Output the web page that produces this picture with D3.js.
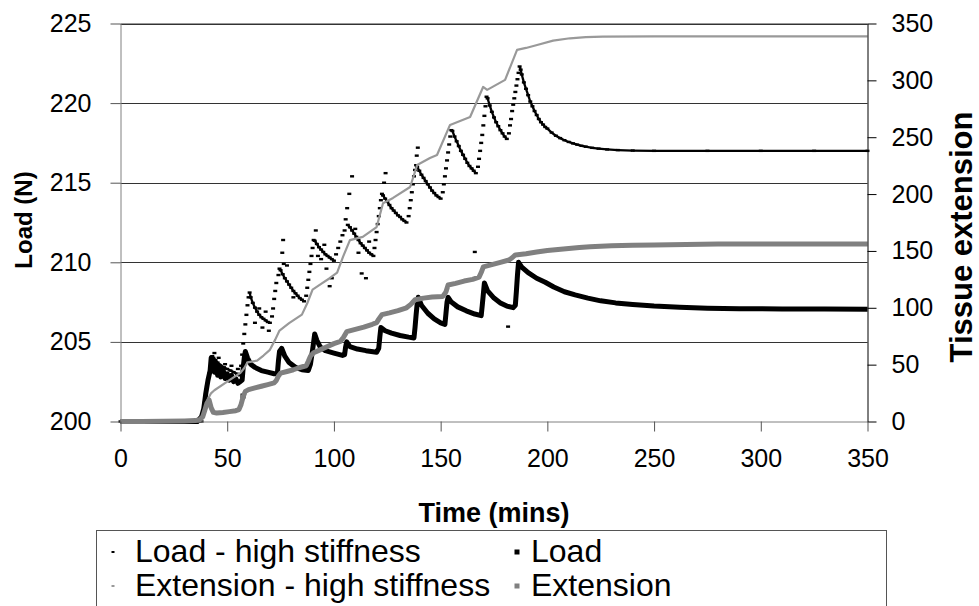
<!DOCTYPE html>
<html><head><meta charset="utf-8">
<script src="https://cdn.jsdelivr.net/npm/d3@7"></script>
<style>
html,body{margin:0;padding:0;background:#fff;}
svg{display:block;font-family:"Liberation Sans",Arial,sans-serif;}
</style></head><body>
<svg id="chart" width="979" height="606"></svg>
<script>
// Axis ticks
const timeTicks = [0, 50, 100, 150, 200, 250, 300, 350];
const loadTicks = [200, 205, 210, 215, 220, 225];
const extTicks = [0, 50, 100, 150, 200, 250, 300, 350];

// Load - high stiffness: [time (mins), load (N)]
const loadHigh = [
  [0,200],[5,200],[10,200],[15,200],[20,200],[25,200],[30,200],[35,200],[38,200],
  [39,200.7],[39.5,201.2],[40,201.7],[40.5,202.2],[41,202.6],[41.5,203.0],[42,203.4],[42.5,203.7],[43,204.1],
  [43.5,204.0],[44.5,203.85],[45.5,203.7],[47,203.5],[48.5,203.4],[50,203.3],[51.5,203.2],[53,203.1],[54.5,203.0],[56,202.9],
  [56.5,203.5],[57,204.2],[57.5,204.9],[58,205.5],[58.5,206.1],[59,206.7],[59.5,207.3],[60,207.8],
  [60.5,208.1],[61,207.8],[62,207.45],[63,207.15],[64,206.9],[65,206.7],[66,206.55],[67,206.45],[68,206.35],[69,206.25],[70,206.2],
  [71,206.6],[71.5,207.1],[72,207.7],[72.5,208.2],[73,208.7],[74,209.2],[74.5,209.6],
  [75,209.5],[76,209.25],[77,209.0],[78,208.8],[79,208.6],[80,208.4],[81,208.2],[82,208.05],[83,207.9],[84,207.75],[85,207.65],[86,207.55],
  [87,207.9],[87.5,208.4],[88,208.9],[88.5,209.4],[89,209.9],[89.5,210.4],[90,210.9],[90.5,211.4],
  [91,211.35],[92,211.15],[93,210.95],[94,210.8],[95,210.65],[96,210.5],[97,210.4],[98,210.3],[99,210.2],[100,210.1],
  [101,210.5],[102,210.9],[103,211.3],[104,211.7],[105,212.0],
  [106.5,212.35],[107.5,212.2],[108.5,212.0],[109.5,211.8],[110.5,211.6],[111.5,211.4],[112.5,211.2],[113.5,211.05],[114.5,210.9],[115.5,210.75],[116.5,210.6],[117.5,210.5],[118.5,210.4],
  [119,210.9],[119.5,211.4],[120,211.9],[120.5,212.4],[121,212.9],[121.5,213.4],[122,213.9],[122.5,214.3],
  [123,214.2],[124,214.0],[125,213.8],[126,213.6],[127,213.4],[128,213.25],[129,213.1],[130,212.95],[131,212.85],[132,212.7],[133,212.6],[134,212.5],
  [135,212.9],[135.5,213.4],[136,213.9],[136.5,214.4],[137,214.9],[137.5,215.4],[138,215.8],[138.5,216.1],
  [139,216.0],[140,215.75],[141,215.5],[142,215.3],[143,215.1],[144,214.9],[145,214.7],[146,214.5],[147,214.35],[148,214.2],[149,214.1],[150,214.0],
  [151,214.4],[151.5,214.9],[152,215.4],[152.5,215.9],[153,216.4],[153.5,216.9],[154,217.4],[154.5,217.9],[155,218.3],
  [155.5,218.25],[156.5,217.9],[157.5,217.6],[158.5,217.3],[159.5,217.0],[160.5,216.75],[161.5,216.5],[162.5,216.25],[163.5,216.05],[164.5,215.9],[165.5,215.75],[166.5,215.6],
  [167.5,216.0],[168,216.5],[168.5,217.0],[169,217.5],[169.5,218.0],[170,218.6],[170.5,219.2],[171,219.8],[171.5,220.4],
  [172,220.3],[173,219.85],[174,219.45],[175,219.1],[176,218.8],[177,218.55],[178,218.3],[179,218.1],[180,217.9],[181,217.75],
  [182,218.1],[182.5,218.6],[183,219.0],[183.5,219.5],[184,219.9],[184.5,220.3],[185,220.7],[185.5,221.1],[186,221.5],[186.5,221.9],[187,222.3],
  [187.5,222.1],[188,221.8],[189,221.3],[190,220.9],[191,220.5],[192,220.1],[193,219.8],[194,219.5],[195,219.25],[196,219.0],[197,218.8],[198,218.65],[199,218.5],
  [200,218.4],[202,218.15],[204,217.95],[206,217.8],[208,217.67],[210,217.56],[212,217.47],[214,217.39],[216,217.32],[218,217.26],[221,217.19],[224,217.14],
  [228,217.09],[233,217.05],[240,217.02],[250,217.0],[275,217.0],[300,217.0],[325,217.0],[350,217.0]
];
// Stray high-stiffness load samples
const loadHighStray = [
  [44,204.3],[45,203.2],[46,204.0],[47.5,202.9],[49,203.6],[50.5,202.8],[52,203.5],[53.5,202.6],[55,203.3],
  [63,206.2],[65,207.1],[66.5,205.9],[68,206.9],[69.5,205.7],
  [75.8,210.6],[76.2,211.4],[76.5,209.9],[78,209.8],[81,207.8],
  [91.5,212.0],[92.5,210.4],[94,210.2],[95.5,211.1],[96.5,209.6],[98,208.5],[99,209.0],
  [105.5,212.7],[106.2,213.4],[107.2,214.3],[108.5,215.4],[110,212.1],[111.5,210.6],[113,209.3],[115,209.0],[116.5,211.3],
  [123.5,215.0],[124.2,215.6],[138.8,216.7],[139.3,217.2],[166,210.65],[181.6,205.96]
];

// Load: [time (mins), load (N)]
const load = [
  [0,200],[36,200],[38,200.3],[39,200.8],[40,201.8],[41,202.6],[42,203.2],[42.5,204.0],[43,203.3],[43.5,203.9],
  [44,203.1],[45,203.6],[45.5,202.9],[46.5,203.5],[47,202.8],[48,203.3],[49,202.7],[50,203.0],[51,202.6],[52,202.9],
  [53,202.5],[54,202.7],[55,202.4],[56,202.5],[57,202.6],[57.5,203.4],[58,204.0],[58.5,204.4],[59.5,204.0],
  [61,203.6],[63,203.4],[66,203.2],[69,203.1],[72,203.0],[73.5,203.0],[74,203.8],[74.5,204.4],[75.5,204.6],[77,204.1],
  [79,203.7],[82,203.4],[85,203.25],[88,203.2],[89,203.6],[90,204.5],[91,205.5],[92,205.1],[93.5,204.7],[96,204.45],
  [100,204.3],[104,204.15],[105,204.2],[105.5,204.7],[106,205.0],[107.5,204.7],[111,204.55],[115,204.45],[120,204.35],
  [121,204.6],[121.5,205.3],[122,205.9],[124,205.7],[127,205.55],[131,205.4],[135,205.3],[137.5,205.25],[138,205.9],
  [138.5,206.7],[139,207.4],[139.5,207.8],[141,207.3],[144,206.8],[147,206.45],[150,206.2],[152,206.1],[152.5,206.8],
  [153,207.5],[153.5,207.8],[155,207.5],[158,207.2],[162,206.95],[166,206.75],[169,206.65],[169.5,207.3],[170,208.0],
  [170.5,208.7],[172,208.2],[175,207.75],[178,207.45],[181,207.25],[184,207.15],[185,207.3],[185.5,208.2],[186,209.2],
  [186.5,210.0],[188,209.7],[191,209.35],[195,209.0],[199,208.75],[203,208.45],[208,208.15],[213,207.95],[219,207.75],
  [225,207.58],[232,207.45],[240,207.35],[250,207.25],[262,207.17],[275,207.12],[290,207.09],[310,207.07],[330,207.06],[350,207.05]
];
const loadStray = [[57.4,201.6]];

// Extension - high stiffness: [time (mins), extension]
const extHigh = [
  [0,0],[30,0.3],[36,1],[38,3],[39.5,10],[41,20],[42.5,25],[44,27.5],[50,35],[56,42.5],[58,47],[59.5,52],[64,53.5],
  [67,58],[70,63],[72.5,72],[74.5,80],[79,86.5],[85,94],[87.5,104],[90,116],[94,121],[98,126],[101.5,131],[104.3,145],
  [107.5,159.5],[113.5,162.3],[120,171],[123,192],[127.7,196.6],[135.7,206.2],[139,225.6],[145,231.7],[148.3,234.4],
  [154.4,260.8],[163.8,267.8],[169.9,294.2],[171.8,291.6],[180.2,300.4],[185.8,326.8],[190,328.5],[195.2,331.1],
  [202.7,334.9],[210.6,337],[218,338],[226,338.4],[250,338.6],[350,338.6]
];

// Extension: [time (mins), extension]
const ext = [
  [0,0],[10,0],[20,0.3],[30,0.5],[35,0.8],[37,1.5],[38.5,4],[39.5,10],[40.5,16],[41.5,19],[42.5,12],[43.5,8],[45,7.5],
  [48,8],[51,8.7],[54,9.5],[55.5,10.5],[56.5,15],[57.5,22],[58.5,26.5],[60,28],[63,29.5],[66,31],[69,32.5],[72,34],
  [73,36],[74,40],[75,42.5],[78,44],[81,45.5],[84,47.5],[87,49],[88,53],[89,57.5],[90.5,60.5],[93.5,63],[97,66],
  [100,68.5],[103,70.5],[104.5,74],[106,79],[110,81],[114,83],[118,85.5],[120,87],[121,90],[122.5,94],[126,95.5],
  [130,97.5],[134,100],[136,103],[138,107],[142,108.5],[146,109.5],[151,110],[152.5,114],[153.5,120],[157,121.5],
  [161,123.5],[165,125],[168,127],[169,131],[170,136],[174,138],[178,140],[182,142],[183.5,144],[185,146.5],[190,147.5],
  [195,149],[200,150.3],[205,151.3],[210,152.2],[215,153],[220,153.6],[230,154.5],[240,155],[250,155.3],[265,155.7],
  [280,156],[300,156.1],[350,156.2]
];

const legendItems = [
  {label: "Load - high stiffness", col: 0, row: 0, kind: "dash", color: "#000"},
  {label: "Load", col: 1, row: 0, kind: "square", color: "#000"},
  {label: "Extension - high stiffness", col: 0, row: 1, kind: "dash", color: "#999"},
  {label: "Extension", col: 1, row: 1, kind: "square", color: "#808080"}
];

const svg = d3.select("#chart");
const plot = {left: 120.5, right: 867.5, top: 23.5, bottom: 421.5};

const x = d3.scaleLinear().domain([0, 350]).range([plot.left, plot.right]);
const yL = d3.scaleLinear().domain([200, 225]).range([plot.bottom, plot.top]);
const yR = d3.scaleLinear().domain([0, 350]).range([plot.bottom, plot.top]);

// Horizontal gridlines at load ticks
svg.append("g").selectAll("line")
  .data(loadTicks.filter(d => d > 200))
  .join("line")
  .attr("x1", plot.left).attr("x2", plot.right)
  .attr("y1", d => Math.round(yL(d)) + 0.5).attr("y2", d => Math.round(yL(d)) + 0.5)
  .attr("stroke", "#333").attr("stroke-width", 1);

const marks = svg.append("g");

// Load - high stiffness: relaxation runs drawn as a trace, every sample as a dash
const hiSeg = [];
for (let i = 0; i < loadHigh.length - 1; i++) {
  if (loadHigh[i + 1][1] <= loadHigh[i][1] + 0.01) hiSeg.push([loadHigh[i], loadHigh[i + 1]]);
}
marks.append("g").selectAll("line").data(hiSeg).join("line")
  .attr("x1", d => x(d[0][0])).attr("y1", d => yL(d[0][1]))
  .attr("x2", d => x(d[1][0])).attr("y2", d => yL(d[1][1]))
  .attr("stroke", "#000").attr("stroke-width", 2.3);
marks.append("g").selectAll("rect").data(loadHigh.concat(loadHighStray)).join("rect")
  .attr("x", d => x(d[0]) - 2).attr("y", d => yL(d[1]) - 1.2)
  .attr("width", 4).attr("height", 2.4).attr("fill", "#000");

// Load
marks.append("path").datum(load)
  .attr("d", d3.line().x(d => x(d[0])).y(d => yL(d[1])))
  .attr("fill", "none").attr("stroke", "#000").attr("stroke-width", 5).attr("stroke-linejoin", "round");
marks.append("g").selectAll("rect").data(loadStray).join("rect")
  .attr("x", d => x(d[0]) - 2.5).attr("y", d => yL(d[1]) - 2.5)
  .attr("width", 5).attr("height", 5).attr("fill", "#000");

// Extension - high stiffness
marks.append("path").datum(extHigh)
  .attr("d", d3.line().x(d => x(d[0])).y(d => yR(d[1])))
  .attr("fill", "none").attr("stroke", "#999").attr("stroke-width", 2.2).attr("stroke-linejoin", "round");

// Extension
marks.append("path").datum(ext)
  .attr("d", d3.line().x(d => x(d[0])).y(d => yR(d[1])))
  .attr("fill", "none").attr("stroke", "#808080").attr("stroke-width", 5).attr("stroke-linejoin", "round");

// Top frame line
svg.append("line").attr("x1", plot.left).attr("x2", plot.right)
  .attr("y1", plot.top).attr("y2", plot.top).attr("stroke", "#999").attr("stroke-width", 1);

// Axes
const axL = svg.append("g").attr("transform", `translate(${plot.left},0)`)
  .call(d3.axisLeft(yL).tickValues(loadTicks).tickSize(10).tickSizeOuter(0).tickPadding(19));
const axR = svg.append("g").attr("transform", `translate(${plot.right},0)`)
  .call(d3.axisRight(yR).tickValues(extTicks).tickSize(9).tickSizeOuter(0).tickPadding(15));
const axB = svg.append("g").attr("transform", `translate(0,${plot.bottom})`)
  .call(d3.axisBottom(x).tickValues(timeTicks).tickSize(10).tickSizeOuter(0).tickPadding(18));

[axL, axR, axB].forEach(a => {
  a.selectAll("text").attr("font-family", '"Liberation Sans", Arial, sans-serif').attr("fill", "#000").attr("font-size", 25);
});
axL.select(".domain").attr("stroke", "#808080");
axL.selectAll(".tick line").attr("stroke", "#555");
axB.select(".domain").attr("stroke", "#808080");
axB.selectAll(".tick line").attr("stroke", "#555");
axR.select(".domain").attr("stroke", "#000");

// Axis titles
svg.append("text").attr("x", (plot.left + plot.right) / 2).attr("y", 522)
  .attr("text-anchor", "middle").attr("font-size", 27).attr("font-weight", "bold").text("Time (mins)");
svg.append("text").attr("transform", "translate(32,220) rotate(-90)")
  .attr("text-anchor", "middle").attr("font-size", 24).attr("font-weight", "bold").text("Load (N)");
svg.append("text").attr("transform", "translate(972,237) rotate(-90)")
  .attr("text-anchor", "middle").attr("font-size", 31).attr("font-weight", "bold").text("Tissue extension");

// Legend
const lg = svg.append("g");
lg.append("rect").attr("x", 96.5).attr("y", 530.5).attr("width", 790).attr("height", 100)
  .attr("fill", "#fff").attr("stroke", "#555").attr("stroke-width", 1);
const colMarker = [113, 517], colText = [135, 531], rowBase = [562, 596];
const li = lg.selectAll("g.item").data(legendItems).join("g").attr("class", "item");
li.append("rect")
  .attr("x", d => colMarker[d.col] - (d.kind === "square" ? 2.5 : 1.5))
  .attr("y", d => rowBase[d.row] - 10 - (d.kind === "square" ? 2.5 : 1))
  .attr("width", d => d.kind === "square" ? 5 : 3)
  .attr("height", d => d.kind === "square" ? 5 : 2)
  .attr("fill", d => d.color);
li.append("text").attr("x", d => colText[d.col]).attr("y", d => rowBase[d.row])
  .attr("font-size", 32).attr("fill", "#000").text(d => d.label);
</script>
</body></html>
